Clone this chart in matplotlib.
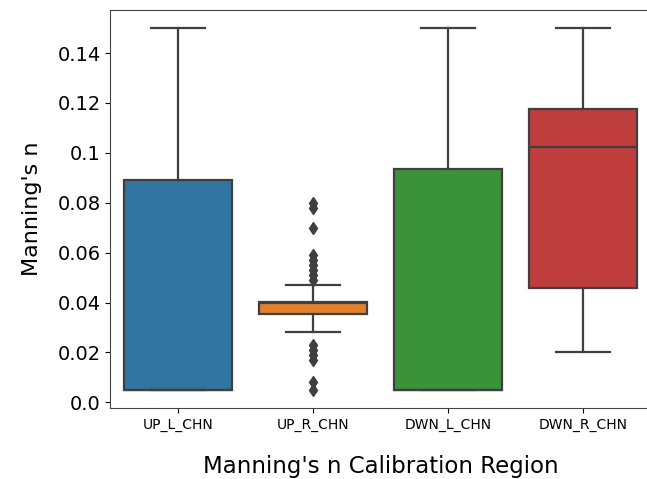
import matplotlib
matplotlib.use("Agg")
import matplotlib.pyplot as plt

categories = ["UP_L_CHN", "UP_R_CHN", "DWN_L_CHN", "DWN_R_CHN"]
q1 = [0.005, 0.0355, 0.005, 0.046]
med = [0.005, 0.040, 0.005, 0.1024]
q3 = [0.0890, 0.0401, 0.0935, 0.1175]
whislo = [0.005, 0.0281, 0.005, 0.020]
whishi = [0.150, 0.0472, 0.150, 0.150]
fliers = [
    [],
    [0.080, 0.078, 0.070, 0.059, 0.057, 0.055, 0.053, 0.051, 0.049,
     0.023, 0.021, 0.019, 0.017, 0.008, 0.005],
    [],
    [],
]
colors = ["#3274a1", "#e1812c", "#3a923a", "#c03d3e"]
ytick_vals = [0.0, 0.02, 0.04, 0.06, 0.08, 0.10, 0.12, 0.14]
ytick_labels = ["0.0", "0.02", "0.04", "0.06", "0.08", "0.1", "0.12", "0.14"]

fig = plt.figure(figsize=(6.47, 4.79), dpi=100)
ax = fig.add_axes([110.5 / 647, (479 - 408) / 479, 540 / 647, 398 / 479])

stats = []
for i, c in enumerate(categories):
    stats.append(dict(label=c, q1=q1[i], med=med[i], q3=q3[i],
                      whislo=whislo[i], whishi=whishi[i], fliers=fliers[i]))

line_col = "#3f3f3f"
lw = 1.6
bp = ax.bxp(stats, positions=range(len(categories)), widths=0.8,
            patch_artist=True, showfliers=True,
            boxprops=dict(edgecolor=line_col, linewidth=lw),
            medianprops=dict(color=line_col, linewidth=lw),
            whiskerprops=dict(color=line_col, linewidth=lw),
            capprops=dict(color=line_col, linewidth=lw),
            flierprops=dict(marker="d", markerfacecolor=line_col,
                            markeredgecolor=line_col, markersize=6))
for patch, col in zip(bp["boxes"], colors):
    patch.set_facecolor(col)
for cap in bp["caps"]:
    x = cap.get_xdata()
    mid = (x[0] + x[1]) / 2
    cap.set_xdata([mid - 0.2, mid + 0.2])

ax.set_xlim(-0.5, 3.5)
ax.set_ylim(-0.00225, 0.15725)
ax.set_xticks(range(len(categories)))
ax.set_xticklabels(categories, fontsize=10)
ax.set_yticks(ytick_vals)
ax.set_yticklabels(ytick_labels, fontsize=14)
ax.set_xlabel("Manning's n Calibration Region", fontsize=16.5, labelpad=17)
ax.set_ylabel("Manning's n", fontsize=16, labelpad=11)
for s in ax.spines.values():
    s.set_color("#444444")

fig.savefig("out.png", dpi=100)
